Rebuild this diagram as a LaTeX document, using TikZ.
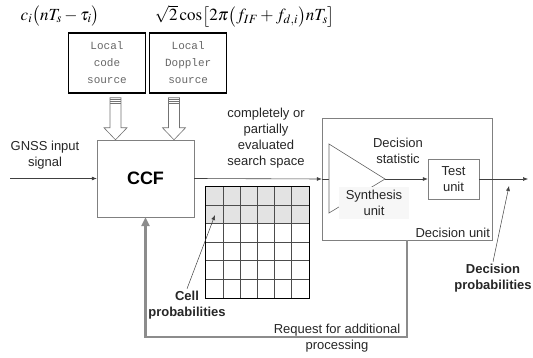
\documentclass[tikz,border=0pt]{standalone}
\usepackage{mathptmx}
\usepackage[no-math]{fontspec}
\setmainfont{Liberation Sans}
\setmonofont{Liberation Mono}
\usetikzlibrary{arrows.meta, positioning, calc}

\begin{document}
\begin{tikzpicture}[
    x=1pt, y=-1pt,
    >={Latex[length=5pt,width=4pt]},
    font=\fontsize{13}{16}\selectfont,
    formula/.style  = {inner sep=0pt, font=\fontsize{17}{20}\selectfont},
    srcbox/.style   = {rectangle, draw=black, line width=1.2pt,
                       minimum width=77pt, minimum height=60pt, inner sep=0pt,
                       align=center, text=black!60,
                       font=\fontsize{11}{17}\selectfont\ttfamily},
    ccfbox/.style   = {rectangle, draw=black!50, fill=white,
                       minimum width=97pt, minimum height=77pt,
                       font=\fontsize{18}{20}\selectfont\bfseries},
    unitbox/.style  = {rectangle, draw=black!50, align=center, text=black!85},
    gridbox/.style  = {rectangle, inner sep=0pt, minimum width=103pt,
                       minimum height=111pt},
    txt/.style      = {align=center, text=black!85, inner sep=2pt},
    boldtxt/.style  = {align=center, text=black!85, inner sep=2pt,
                       font=\fontsize{13}{16}\selectfont\bfseries},
    sig/.style      = {->, draw=black!75, line width=0.6pt},
    thinline/.style = {draw=black!75, line width=0.6pt},
    pointer/.style  = {->, draw=black!75, line width=0.5pt},
    hollow/.style   = {draw=black!55, fill=white, line width=0.6pt},
    tri/.style      = {draw=black!60, line width=0.6pt},
    cellline/.style = {draw=black!70, line width=0.6pt},
    gridedge/.style = {draw=black, line width=1.3pt},
    feedback/.style = {draw=black!45, line width=2.4pt,
                       -{Triangle[length=9pt,width=8pt]}},
]
\useasboundingbox (0,0) rectangle (533,358);

% local replicas
\node[formula] (codeeq) at (60,16) {$c_i\bigl(nT_s-\tau_i\bigr)$};
\node[formula] (dopeq) at (245,16)
    {$\sqrt{2}\cos\bigl[2\pi\bigl(f_{IF}+f_{d,i}\bigr)nT_s\bigr]$};

\node[srcbox] (codesrc) at (107,63) {Local\\code\\source};
\node[srcbox, right=3pt of codesrc] (dopsrc) {Local\\Doppler\\source};

% correlation
\node[ccfbox] (ccf) at (145.5,178.5) {CCF};
\node[txt] (gnss) at (45,155) {GNSS input\\signal};
\coordinate (gnssin) at (10,178.5);
\draw[sig] (gnssin) -- (ccf.west);

\foreach \dx/\nm in {-30/code, 28.5/dop} {
  \coordinate (\nm tip) at ($(ccf.north)+(\dx,0)$);
  \draw[hollow] ($(\nm tip)+(-5.5,-42)$) -- ++(0,30) -- ++(-6,0)
      -- (\nm tip) -- ++(11.5,-12) -- ++(-6,0) -- ++(0,-30) -- cycle;
  \foreach \s in {2,4,6}
    \draw[hollow] ($(\nm tip)+(-5.5,-42+\s)$) -- ++(11,0);
}

\node[txt] (space) at (266,138) {completely or\\partially\\evaluated\\search space};

% search space grid
\node[gridbox] (grid) at (257.5,242.5) {};
\fill[gray!22] (grid.north west) rectangle ($(grid.north east)+(0,37)$);
\foreach \k in {1,...,5} {
  \draw[cellline] ($(grid.north west)+(\k*103/6,0)$) -- ($(grid.south west)+(\k*103/6,0)$);
  \draw[cellline] ($(grid.north west)+(0,\k*18.5)$) -- ($(grid.north east)+(0,\k*18.5)$);
}
\draw[gridedge] (grid.north west) rectangle (grid.south east);

\node[boldtxt] (cellprob) at (187,305) {Cell\\probabilities};
\coordinate (cellpt) at (215,215);
\draw[pointer] (cellprob.north) -- (cellpt);

% decision unit
\node[unitbox, minimum width=170pt, minimum height=122pt] (decunit) at (407,179) {};
\draw[sig] (ccf.east) -- (decunit.west);

\coordinate (synin) at (329,179);
\coordinate (synapex) at (385,179);
\draw[thinline] (decunit.west) -- (synin);
\draw[tri] ($(synin)+(0,-35)$) -- (synapex) -- ($(synin)+(0,34)$) -- cycle;
\node[txt, fill=gray!6, inner xsep=7pt, inner ysep=3pt] (synth) at (374,203)
    {Synthesis\\unit};
\node[txt] (decstat) at (398,151) {Decision\\statistic};

\node[unitbox, minimum width=51pt, minimum height=40pt] (test) at (453.5,179) {Test\\unit};
\draw[sig] (synapex) -- (test.west);
\coordinate (out) at (528,179);
\draw[sig] (test.east) -- (out);

\node[txt, anchor=south east] (decunitlbl) at (decunit.south east) {Decision unit};

\node[boldtxt] (decprob) at (493,278) {Decision\\probabilities};
\coordinate (decpt) at (509,186);
\draw[pointer] (decprob.north) -- (decpt);

% feedback
\draw[feedback] (decunit.south) -- ++(0,97) -| (ccf.south);
\node[txt] (request) at (337,338.5) {Request for additional\\processing};

\end{tikzpicture}
\end{document}
